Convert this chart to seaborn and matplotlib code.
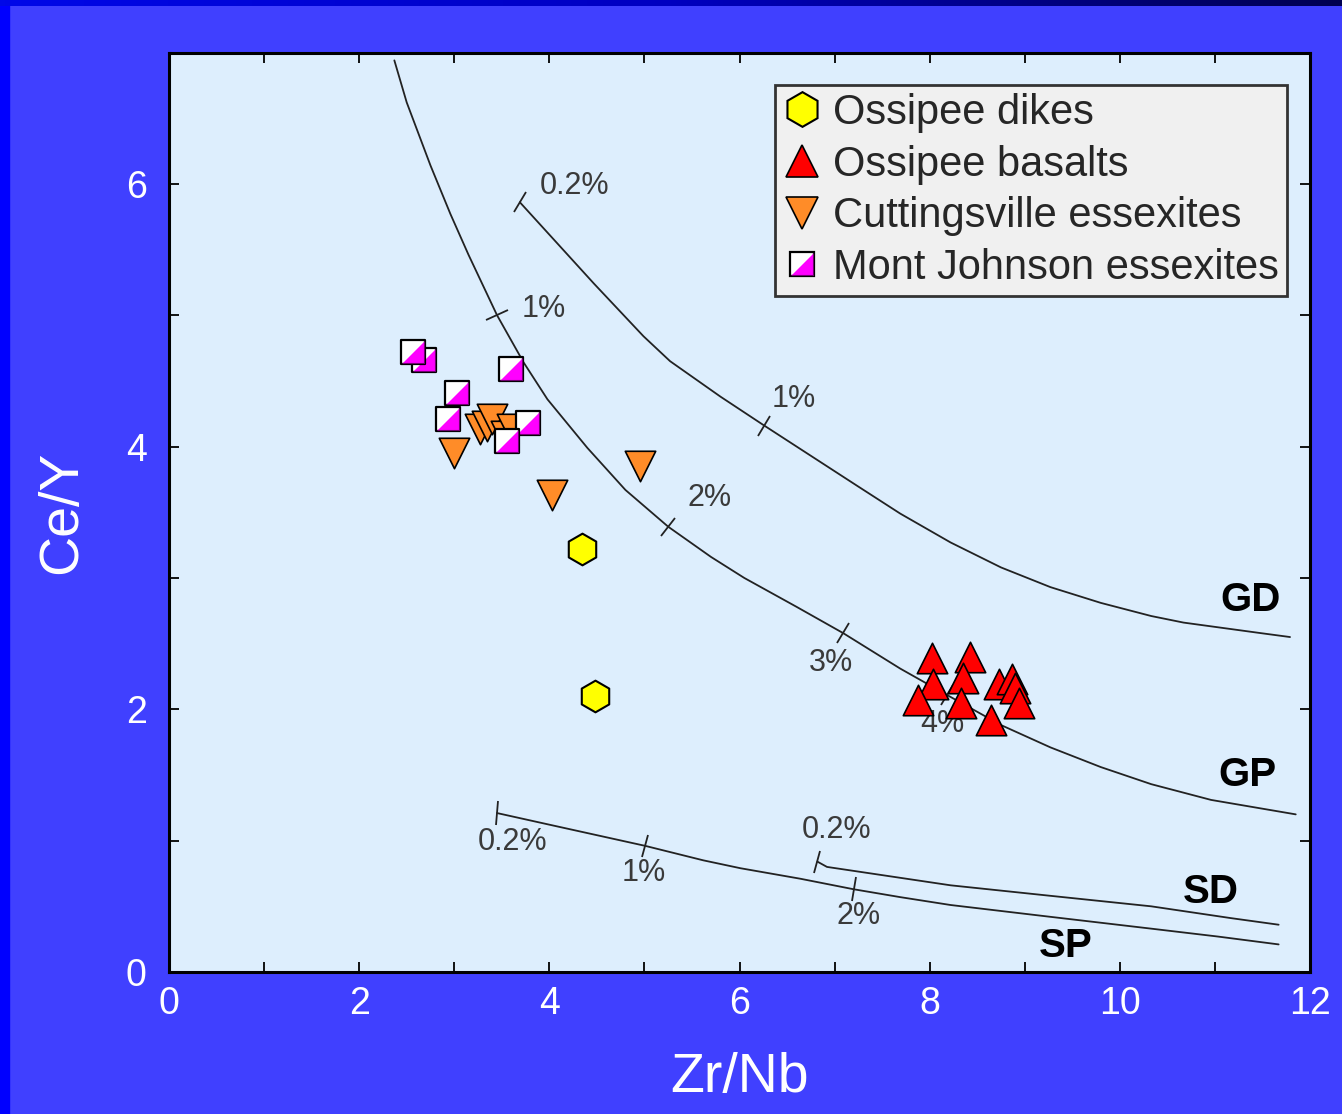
import matplotlib.pyplot as plt
import numpy as np
import pandas as pd
import seaborn as sns
from matplotlib.colors import LinearSegmentedColormap
from matplotlib.legend_handler import HandlerTuple
from matplotlib.lines import Line2D
from matplotlib.markers import MarkerStyle
from matplotlib.patches import Rectangle
from matplotlib.transforms import Affine2D

# --- sample data ---
dikes_x = [4.34, 4.48]
dikes_y = [3.22, 2.10]

basalts_x = [8.02, 8.42, 8.04, 8.35, 7.88, 8.33, 8.64, 8.73, 8.87, 8.90, 8.94]
basalts_y = [2.39, 2.40, 2.19, 2.24, 2.07, 2.05, 1.92, 2.19, 2.23, 2.16, 2.05]

cutt_x = [3.00, 4.03, 4.95, 3.27, 3.34, 3.40, 3.54, 3.61]
cutt_y = [3.95, 3.63, 3.85, 4.13, 4.16, 4.21, 4.08, 4.13]

mj_x = [2.68, 2.57, 3.60, 3.03, 2.93, 3.78, 3.55]
mj_y = [4.66, 4.72, 4.59, 4.41, 4.21, 4.18, 4.04]

# --- melting curves ---
gd_x = [3.69, 4.08, 4.47, 4.99, 5.27, 5.80, 6.26, 7.24, 7.69, 8.22, 8.75,
        9.27, 9.80, 10.33, 10.67, 11.48, 11.79]
gd_y = [5.86, 5.55, 5.24, 4.84, 4.65, 4.38, 4.16, 3.70, 3.49, 3.27, 3.08,
        2.93, 2.81, 2.71, 2.66, 2.58, 2.55]

gp_x = [2.37, 2.50, 2.75, 2.96, 3.15, 3.45, 3.73, 3.98, 4.40, 4.80, 5.25,
        5.70, 6.05, 6.60, 7.09, 7.69, 8.18, 8.75, 9.27, 9.80, 10.33, 10.96,
        11.85]
gp_y = [6.94, 6.62, 6.14, 5.77, 5.46, 5.00, 4.64, 4.36, 3.99, 3.67, 3.39,
        3.16, 3.00, 2.78, 2.58, 2.31, 2.11, 1.88, 1.71, 1.56, 1.43, 1.31,
        1.20]

sd_x = [6.82, 6.92, 8.22, 9.27, 10.33, 11.17, 11.67]
sd_y = [0.84, 0.80, 0.66, 0.58, 0.50, 0.41, 0.36]

sp_x = [3.45, 4.01, 5.01, 5.62, 6.01, 6.64, 7.20, 7.69, 8.22, 9.27, 10.33,
        11.03, 11.67]
sp_y = [1.21, 1.12, 0.96, 0.85, 0.79, 0.71, 0.63, 0.57, 0.51, 0.42, 0.33,
        0.27, 0.21]

# melt-fraction ticks (x position on each curve)
gd_ticks = [3.69, 6.26]
gp_ticks = [3.45, 5.25, 7.09, 8.18]
sd_ticks = [6.82]
sp_ticks = [3.45, 5.01, 7.20]

# percentage labels: text, x, y
pct_labels = [
    ("0.2%", 4.27, 5.98), ("1%", 6.57, 4.36),
    ("1%", 3.94, 5.05), ("2%", 5.68, 3.61), ("3%", 6.96, 2.35),
    ("4%", 8.13, 1.89),
    ("0.2%", 3.61, 0.99), ("1%", 4.99, 0.75), ("2%", 7.25, 0.43),
    ("0.2%", 7.02, 1.08),
]
curve_names = [("GD", 11.38, 2.83), ("GP", 11.34, 1.50),
               ("SD", 10.96, 0.61), ("SP", 9.43, 0.20)]

sns.set_theme(style="ticks")
plt.rcParams["font.family"] = ["Liberation Sans", "DejaVu Sans"]

BG = "#4040FF"
fig = plt.figure(figsize=(13.42, 11.14), dpi=100, facecolor=BG)

# slide decoration: left strip and top gradient
fig.add_artist(Rectangle((0, 0), 9 / 1342, 1, transform=fig.transFigure,
                         color="#0000FF", zorder=0))
top = fig.add_axes([0, 1 - 6 / 1114, 1, 6 / 1114])
grad_cmap = LinearSegmentedColormap.from_list(
    "strip", ["#0008E8", "#0000C0", "#000050"])
top.imshow(np.linspace(0, 1, 256)[None, :], aspect="auto", cmap=grad_cmap)
top.axis("off")

ax = fig.add_axes([169 / 1342, 142 / 1114, 1141 / 1342, 919.5 / 1114])
ax.set_facecolor("#DDEEFD")
ax.set_xlim(0, 12)
ax.set_ylim(0, 7)

# curves
curve_color = "#222222"
for cx, cy in [(gd_x, gd_y), (gp_x, gp_y), (sd_x, sd_y), (sp_x, sp_y)]:
    sns.lineplot(x=cx, y=cy, sort=False, estimator=None, color=curve_color,
                 lw=1.3, ax=ax, zorder=2)

# perpendicular ticks on the curves
for cx, cy, ticks in [(gd_x, gd_y, gd_ticks), (gp_x, gp_y, gp_ticks),
                      (sd_x, sd_y, sd_ticks), (sp_x, sp_y, sp_ticks)]:
    for xt in ticks:
        yt = np.interp(xt, cx, cy)
        p0 = ax.transData.transform((xt - 0.05, np.interp(xt - 0.05, cx, cy)))
        p1 = ax.transData.transform((xt + 0.05, np.interp(xt + 0.05, cx, cy)))
        ang = np.degrees(np.arctan2(p1[1] - p0[1], p1[0] - p0[0]))
        mk = MarkerStyle("_", transform=Affine2D().rotate_deg(ang + 90))
        ax.plot(xt, yt, marker=mk, ms=17, mew=1.3, color=curve_color,
                ls="none", zorder=2)

for txt, tx, ty in pct_labels:
    ax.text(tx, ty, txt, fontsize=22, color="#3a3a3a",
            ha="center", va="center", zorder=2)
for txt, tx, ty in curve_names:
    ax.text(tx, ty, txt, fontsize=29, fontweight="bold", color="black",
            ha="center", va="center", zorder=2)

# sample points
sns.scatterplot(x=dikes_x, y=dikes_y, marker="h", s=520, color="#FFFF00",
                edgecolor="black", linewidth=1.5, ax=ax, zorder=3)
sns.scatterplot(x=cutt_x, y=cutt_y, marker="v", s=480, color="#FF8C28",
                edgecolor="black", linewidth=1.2, ax=ax, zorder=3)

half = [(0.5, 0.5), (0.5, -0.5), (-0.5, -0.5)]
for px, py in zip(mj_x, mj_y):
    sns.scatterplot(x=[px], y=[py], marker="s", s=310, color="white",
                    edgecolor="black", linewidth=1.6, ax=ax, zorder=3)
    sns.scatterplot(x=[px], y=[py], marker=half, s=310 * 0.82,
                    color="#FF00FF", edgecolor="#700070", linewidth=0.8,
                    ax=ax, zorder=3)

sns.scatterplot(x=basalts_x, y=basalts_y, marker="^", s=480, color="#FF0000",
                edgecolor="black", linewidth=1.2, ax=ax, zorder=3)

# axes styling
ax.set_xticks(np.arange(0, 13, 2))
ax.set_yticks(np.arange(0, 7, 2))
ax.set_xticks(np.arange(0, 13, 1), minor=True)
ax.set_yticks(np.arange(0, 8, 1), minor=True)
ax.tick_params(which="both", direction="in", length=7, width=1.3,
               color="black", top=True, right=True)
ax.tick_params(axis="x", which="major", labelsize=27, labelcolor="white",
               pad=10)
ax.tick_params(axis="y", which="major", labelsize=27, labelcolor="white",
               pad=16)
for sp in ax.spines.values():
    sp.set_color("black")
    sp.set_linewidth(2.2)
    sp.set_visible(True)

ax.set_xlabel("Zr/Nb", fontsize=40, color="white", labelpad=22)
ax.set_ylabel("Ce/Y", fontsize=40, color="white", labelpad=27)

# legend
h_dike = Line2D([], [], marker="h", ls="none", ms=25, mfc="#FFFF00",
                mec="black", mew=1.5)
h_bas = Line2D([], [], marker="^", ls="none", ms=23, mfc="#FF0000",
               mec="black", mew=1.2)
h_cut = Line2D([], [], marker="v", ls="none", ms=23, mfc="#FF8C28",
               mec="black", mew=1.2)
h_sq = Line2D([], [], marker="s", ls="none", ms=17, mfc="white",
              mec="black", mew=1.6)
h_tri = Line2D([], [], marker=half, ls="none", ms=15.4, mfc="#FF00FF",
               mec="#700070", mew=0.8)
leg = ax.legend([h_dike, h_bas, h_cut, (h_sq, h_tri)],
                ["Ossipee dikes", "Ossipee basalts", "Cuttingsville essexites",
                 "Mont Johnson essexites"],
                handler_map={tuple: HandlerTuple(ndivide=1)},
                loc="upper right", bbox_to_anchor=(0.98, 0.965),
                fontsize=30, frameon=True, fancybox=False, framealpha=1,
                facecolor="#F0F0F0", edgecolor="#333333",
                handlelength=0.9, handletextpad=0.3, labelspacing=0.28,
                borderpad=0.2, borderaxespad=0)
leg.get_frame().set_linewidth(2)
leg.set_zorder(5)

fig.savefig("out.png", dpi=100, facecolor=BG)
